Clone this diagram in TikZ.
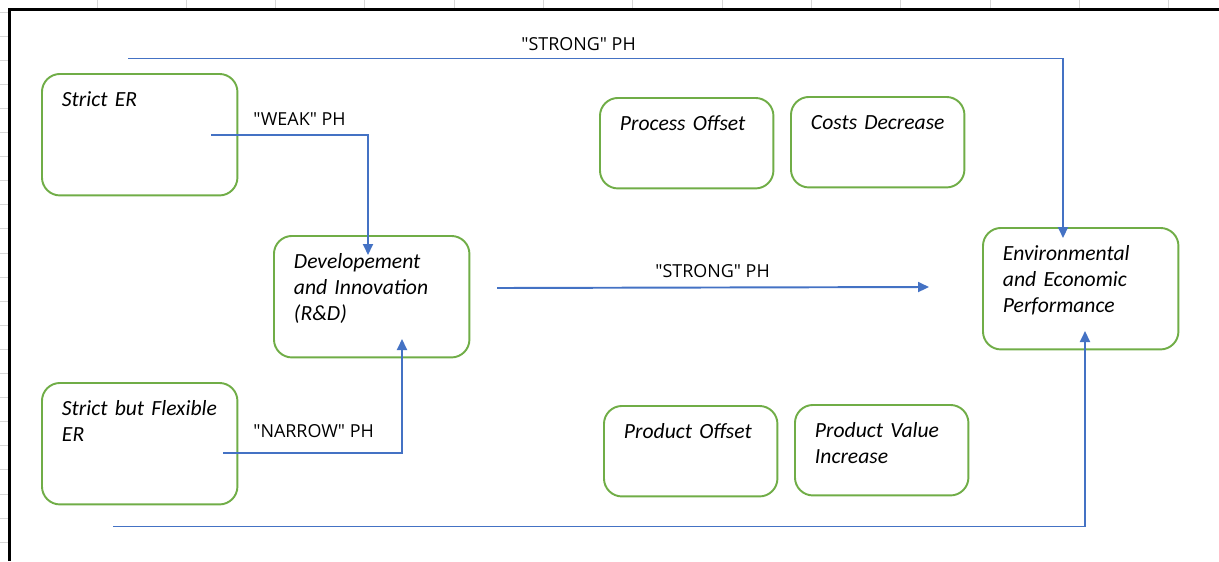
\documentclass[tikz,border=0pt]{standalone}
\usepackage{fontspec}
\setmainfont{Carlito}[Ligatures=TeXOff]
\newfontfamily\phfont{Open Sans}[Ligatures=TeXOff]
\usepackage{tikz}
\usetikzlibrary{arrows.meta, positioning, calc}
\definecolor{boxgreen}{HTML}{70AD47}
\definecolor{linkblue}{HTML}{4472C4}
\definecolor{gridgray}{HTML}{D6D6D6}

\begin{document}
\begin{tikzpicture}[
  x=0.02cm, y=-0.02cm,
  >={Triangle[length=2.2mm, width=2mm]},
  box/.style={
    draw=boxgreen, line width=1.1pt, rounded corners=3.6mm,
    anchor=north west, align=left,
    font=\itshape\fontsize{12.3pt}{14.8pt}\selectfont,
    inner xsep=4mm, inner ysep=0pt, text height=6.5mm
  },
  bigbox/.style={box, text width=31.1mm, text depth=17.8mm},
  smallbox/.style={box, text width=26.7mm, text depth=11.6mm},
  link/.style={draw=linkblue, line width=1.1pt},
  phlab/.style={font=\phfont\fontsize{10.2pt}{12pt}\selectfont, anchor=base west, inner sep=0pt},
  gridline/.style={draw=gridgray, line width=0.5pt},
  frame/.style={draw=black, line width=1.6pt},
]
\useasboundingbox (0,0) rectangle (1219,561);

%%% Sheet grid round the frame
\foreach \gx in {97,186.3,...,1219} \draw[gridline] (\gx,0) -- (\gx,8);
\foreach \gy in {12,36.1,...,561} \draw[gridline] (0,\gy) -- (8,\gy);
\draw[frame] (9.5,561) -- (9.5,9.5) -- (1219,9.5);

%%% Boxes
\node[bigbox]   (ser)  at (41,73)   {Strict ER};
\node[bigbox]   (sfer) at (41,382)  {Strict but Flexible\\ER};
\node[bigbox]   (rd)   at (273,235) {Developement\\and Innovation\\(R\&D)};
\node[smallbox] (po)   at (599,97)  {Process Offset};
\node[smallbox] (cd)   at (790,96)  {\mbox{Costs Decrease}};
\node[smallbox] (pro)  at (603,405) {Product Offset};
\node[smallbox] (pvi)  at (794,404) {Product Value\\Increase};
\node[bigbox]   (eep)  at (982,227) {Environmental\\and Economic\\Performance};

%%% Connector ends
\coordinate (strong-top) at (128,58.5);
\coordinate (eep-in)     at ($(eep.north west)+(81,11)$);
\coordinate (weak-out)   at ($(ser.north west)+(170,62)$);
\coordinate (rd-in)      at ($(rd.north west)+(95,20)$);
\coordinate (narrow-out) at ($(sfer.north west)+(182,71)$);
\coordinate (rd-up)      at ($(rd.north west)+(129,104)$);
\coordinate (strong-mid) at ($(rd.north west)+(224,53)$);
\coordinate (strong-end) at ($(eep.north west)+(-53,60)$);
\coordinate (strong-bot) at (113,526.5);
\coordinate (eep-up)     at ($(eep.north west)+(103,104)$);

%%% Connectors
\draw[link,->] (strong-top) -| (eep-in);
\draw[link,->] (weak-out) -| (rd-in);
\draw[link,->] (narrow-out) -| (rd-up);
\draw[link,->] (strong-mid) -- (strong-end);
\draw[link,->] (strong-bot) -| (eep-up);

%%% Hypothesis labels
\node[phlab] (ph-strong1) at (521,50)  {"STRONG" PH};
\node[phlab] (ph-weak)    at (253,125) {"WEAK" PH};
\node[phlab] (ph-narrow)  at (253,437) {"NARROW" PH};
\node[phlab] (ph-strong2) at (655,277) {"STRONG" PH};

\end{tikzpicture}
\end{document}
